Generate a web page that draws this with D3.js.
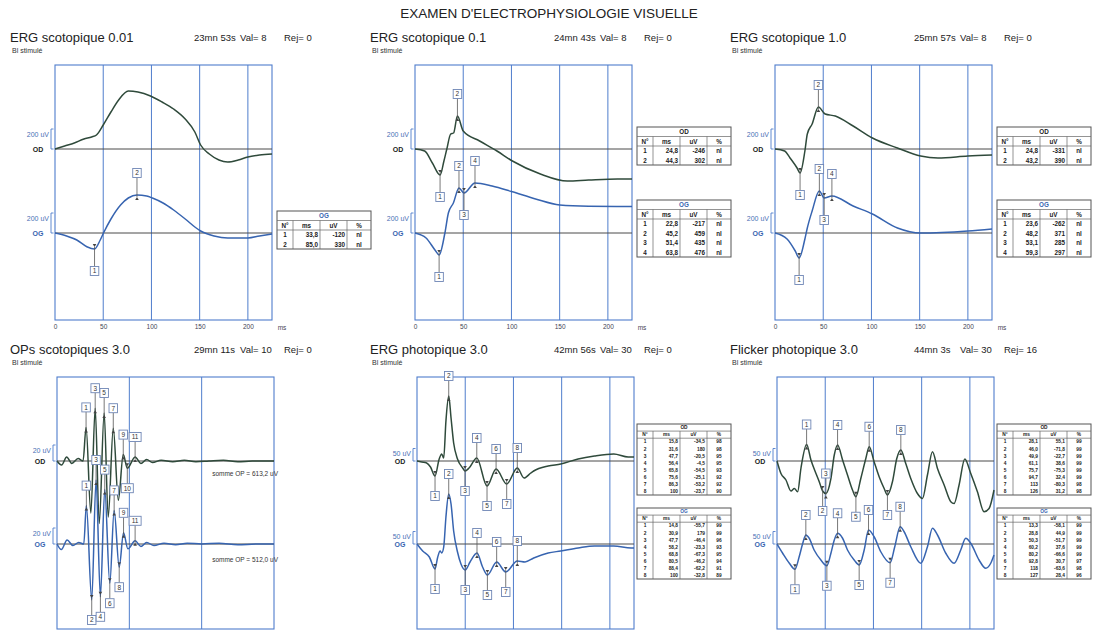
<!DOCTYPE html>
<html>
<head>
<meta charset="utf-8">
<script src="https://cdn.jsdelivr.net/npm/d3@7"></script>
<style>
  body { margin: 0; background: #fff; }
  text { font-family: "Liberation Sans", Arial, sans-serif; }
</style>
</head>
<body>
<script>
// ---- waveforms : [ms, uV] ----
var scot001OD = [[0,0],[10,30],[20,60],[30,100],[38,120],[43,140],[50,240],[58,370],[66,490],[76,580],[86,570],[99,530],[111,470],[123,400],[135,300],[145,170],[151,40],[160,-50],[170,-110],[179,-130],[190,-110],[200,-80],[212,-60],[225,-50]];
var scot001OG = [[0,0],[12,-30],[22.6,-70],[33,-137],[41,-160],[46.9,-70],[50.3,0],[58,140],[68,280],[76,350],[85,380],[95,370],[101,350],[112,300],[123,230],[135,140],[145,60],[151,20],[165,-30],[179,-50],[200,-50],[212,-30],[225,-10]];

var scot01OD = [[0,0],[10,-20],[18,-140],[26,-260],[30,-120],[33,0],[37,150],[40,160],[44,330],[50,180],[67,80],[85,-20],[101,-120],[130,-250],[158,-320],[180,-310],[210,-300],[225,-300]];
var scot01OG = [[0,0],[11.5,-50],[20.7,-170],[25,-220],[31,0],[34.6,200],[39.8,300],[45.6,450],[50.8,400],[62.2,500],[80,470],[100,415],[125,340],[150,280],[180,268],[225,265]];

var scot1OD = [[0,0],[10,-20],[15.6,-90],[22.9,-190],[26,-240],[31,-20],[33.5,150],[38.5,250],[45,420],[52,350],[62.5,330],[81,230],[101,110],[127,10],[151,-70],[169,-90],[200,-70],[225,-60]];
var scot1OG = [[0,0],[12.5,-60],[21,-180],[25,-250],[31,-60],[33.5,50],[38.5,220],[46,420],[51,350],[59,370],[81,270],[101,190],[127,50],[151,0],[200,20],[225,40]];

var opsOD = [[0,0],[3.2,-5],[6.7,5],[10.2,-3],[14.6,3],[18,0],[20.1,42],[23.4,-65],[26.4,66],[29.2,-78],[32.6,60],[35.4,-70],[38.9,41],[42.4,-49],[45.8,8],[48.6,-9],[54,5],[58,-3],[62,2],[66,-2],[72,1],[80,-1],[88,1],[96,-1],[105,0],[115,1],[125,-1],[135,0],[150,0]];
var opsOG = [[0,0],[3,-7],[7,5],[11,-2],[15,2],[18.5,0],[20.3,48],[24,-70],[27,80],[30,-66],[33,68],[36.5,-49],[39.5,42],[43,-29],[46,14],[49,-6],[54,4],[58,-3],[62,2],[67,-2],[74,1],[82,-1],[90,1],[100,0],[112,1],[125,-1],[138,0],[150,0]];

var photOD = [[0,0],[5,-4],[10,-8],[14,-24],[18.7,-60],[23,8],[25.6,28],[27.7,12],[30,160],[32.9,260],[35.3,172],[38,72],[42,8],[47.4,-28],[49.8,-40],[54,-28],[62,12],[72.6,-100],[82,-32],[93,-92],[104,-28],[111,-68],[118,-48],[121,-40],[136,-20],[149,-12],[167,8],[184,20],[204,28],[219,16],[225,16]];
var photOG = [[0,0],[5.9,-28],[12.8,-52],[18.7,-100],[21.5,-52],[24,-28],[25.6,-36],[27.7,-12],[30,108],[32.9,200],[35.3,160],[38,52],[42,-32],[45.6,-80],[50,-104],[55,-72],[62.2,-36],[68,-92],[73,-124],[82.6,-72],[92,-112],[104,-68],[112,-72],[121,-56],[136,-36],[149,-28],[167,-16],[184,-8],[204,-8],[222,-16],[225,-16]];

var flickOD = [[0,0],[4.1,-50],[9.3,-76],[14.5,-120],[18,-110],[21.4,-123],[24.8,-30],[30.7,66],[35.2,4],[40.4,-50],[43.8,-83],[47.3,-120],[50.7,-130],[55.9,-70],[59.4,24],[62.8,64],[68,4],[73.1,-56],[78.3,-116],[81.8,-143],[86.9,-70],[92.1,10],[95.6,57],[100.7,-3],[105.9,-63],[111.1,-110],[114.5,-136],[119.7,-83],[124.2,10],[128.4,44],[133.5,-10],[138.7,-70],[145.6,-130],[150.8,-150],[156,-56],[161.2,37],[166.4,-30],[173.3,-96],[180.2,-163],[183.6,-170],[188.8,-96],[194.7,8],[200.9,-50],[207.8,-123],[214.7,-203],[219.9,-190],[225,-116]];
var flickOG = [[0,0],[5.9,-37],[12.8,-77],[18.6,-101],[23,-51],[26.5,0],[29.9,36],[33.4,23],[38.5,-24],[45.5,-64],[51.7,-87],[55.9,-37],[59.4,16],[62.8,43],[68,23],[73.1,-24],[80,-64],[85.2,-84],[90.4,-24],[94.9,56],[100.7,29],[107.6,-31],[117.3,-75],[122.1,-11],[127.7,69],[131.8,49],[138.7,-11],[149.1,-77],[156,-11],[161.2,63],[166.4,36],[175,-37],[183.6,-77],[190.5,-24],[195.7,23],[200.9,3],[209.5,-64],[216.4,-97],[221.6,-77],[225,-44]];

// ---- markers : [label, ms, side] ----
var scot001OGMarks = [["1",41,"down"],["2",85,"up"]];
var scot01ODMarks = [["1",26,"down"],["2",44,"up"]];
var scot01OGMarks = [["1",25,"down"],["2",45.6,"up"],["3",50.8,"down"],["4",62.2,"up"]];
var scot1ODMarks = [["1",26,"down"],["2",45,"up"]];
var scot1OGMarks = [["1",25,"down"],["2",46,"up"],["3",51,"down"],["4",59,"up"]];
var opsODMarks = [["1",20.1,"up"],["3",26.4,"up"],["5",32.6,"up"],["7",38.9,"up"],["9",45.8,"up"],["11",54,"up"],["10",48.6,"down"]];
var opsOGMarks = [["1",20.3,"up"],["3",27,"up"],["5",33,"up"],["7",39.5,"up"],["9",46,"up"],["11",54,"up"],["2",24,"down"],["4",30,"down"],["6",36.5,"down"],["8",43,"down"]];
var photODMarks = [["1",18.7,"down"],["2",32.9,"up"],["3",49.8,"down"],["4",62,"up"],["5",72.6,"down"],["6",82,"up"],["7",93,"down"],["8",104,"up"]];
var photOGMarks = [["1",18.7,"down"],["2",32.9,"up"],["3",50,"down"],["4",62.2,"up"],["5",73,"down"],["6",82.6,"up"],["7",92,"down"],["8",104,"up"]];
var flickODMarks = [["1",30.7,"up"],["2",47.3,"down"],["3",50.7,"up"],["4",62.8,"up"],["5",81.8,"down"],["6",95.6,"up"],["7",114.5,"down"],["8",128.4,"up"]];
var flickOGMarks = [["1",18.6,"down"],["2",29.9,"up"],["3",51.7,"down"],["4",62.8,"up"],["5",85.2,"down"],["6",94.9,"up"],["7",117.3,"down"],["8",127.7,"up"]];

// ---- result tables ----
var tableHeader = ["N°","ms","uV","%"];
var scot001OGTable = [["1","33,8","-120","nl"],["2","85,0","330","nl"]];
var scot01ODTable = [["1","24,8","-246","nl"],["2","44,3","302","nl"]];
var scot01OGTable = [["1","22,8","-217","nl"],["2","45,2","459","nl"],["3","51,4","435","nl"],["4","63,8","476","nl"]];
var scot1ODTable = [["1","24,8","-331","nl"],["2","43,2","390","nl"]];
var scot1OGTable = [["1","23,6","-262","nl"],["2","48,2","371","nl"],["3","53,1","285","nl"],["4","59,3","297","nl"]];
var photODTable = [["1","15,8","-34,5","98"],["2","31,6","180","98"],["3","47,7","-20,5","95"],["4","56,4","-4,5","95"],["5","65,8","-54,5","93"],["6","75,6","-25,1","92"],["7","86,3","-53,2","92"],["8","100","-23,7","90"]];
var photOGTable = [["1","14,8","-55,7","99"],["2","30,9","179","99"],["3","47,7","-46,4","96"],["4","58,2","-23,3","93"],["5","68,8","-67,3","95"],["6","80,5","-46,2","94"],["7","88,4","-62,2","91"],["8","100","-32,8","89"]];
var flickODTable = [["1","28,1","55,1","99"],["2","46,0","-71,8","99"],["3","49,9","-22,7","99"],["4","61,1","38,6","99"],["5","75,7","-75,3","99"],["6","94,7","32,4","99"],["7","113","-80,3","98"],["8","126","31,2","98"]];
var flickOGTable = [["1","13,3","-58,1","99"],["2","28,8","44,9","99"],["3","50,3","-51,7","99"],["4","60,2","37,6","99"],["5","80,2","-66,6","99"],["6","92,8","30,7","97"],["7","118","-63,6","98"],["8","127","28,4","96"]];

var msTicks = [0, 50, 100, 150, 200];
var opTicks = [0, 50, 100, 150];

var panels = [
  {col:0, row:0, title:"ERG scotopique 0.01", time:"23mn 53s", val:8, rej:0, xMax:225, ticks:msTicks, k:0.1, scale:200,
   od:scot001OD, og:scot001OG, odMarks:[], ogMarks:scot001OGMarks, odTable:null, ogTable:scot001OGTable},
  {col:1, row:0, title:"ERG scotopique 0.1", time:"24mn 43s", val:8, rej:0, xMax:225, ticks:msTicks, k:0.1, scale:200,
   od:scot01OD, og:scot01OG, odMarks:scot01ODMarks, ogMarks:scot01OGMarks, odTable:scot01ODTable, ogTable:scot01OGTable},
  {col:2, row:0, title:"ERG scotopique 1.0", time:"25mn 57s", val:8, rej:0, xMax:225, ticks:msTicks, k:0.1, scale:200,
   od:scot1OD, og:scot1OG, odMarks:scot1ODMarks, ogMarks:scot1OGMarks, odTable:scot1ODTable, ogTable:scot1OGTable},
  {col:0, row:1, title:"OPs scotopiques 3.0", time:"29mn 11s", val:10, rej:0, xMax:150, ticks:opTicks, k:0.8, scale:20,
   od:opsOD, og:opsOG, odMarks:opsODMarks, ogMarks:opsOGMarks, odTable:null, ogTable:null,
   sums:["somme OP = 613,2 uV", "somme OP = 512,0 uV"]},
  {col:1, row:1, title:"ERG photopique 3.0", time:"42mn 56s", val:30, rej:0, xMax:225, ticks:msTicks, k:0.25, scale:50,
   od:photOD, og:photOG, odMarks:photODMarks, ogMarks:photOGMarks, odTable:photODTable, ogTable:photOGTable},
  {col:2, row:1, title:"Flicker photopique 3.0", time:"44mn 3s", val:30, rej:16, xMax:225, ticks:msTicks, k:0.25, scale:50,
   od:flickOD, og:flickOG, odMarks:flickODMarks, ogMarks:flickOGMarks, odTable:flickODTable, ogTable:flickOGTable}
];

// row 2 frames run off the bottom of the page, so their ms labels are not shown
var rows = [
  {title:42, sub:53, top:65, bottom:320, od:149, og:233, tblOD:127, tblOG:200, rowH:9.5, tblFont:6.3, left:55, off:22, tickLabels:true},
  {title:354, sub:365, top:377, bottom:629, od:461, og:544, tblOD:424, tblOG:508, rowH:7.1, tblFont:4.8, left:57, off:20, tickLabels:false}
];

var GRID = "#4f7dcc", OD_COL = "#2f4a3b", OG_COL = "#3764b0", BASE_COL = "#4a4a4a", TXT = "#222";

var svg = d3.select("body").append("svg")
  .attr("width", 1094)
  .attr("height", 632);

svg.append("text")
  .attr("x", 549).attr("y", 18)
  .attr("text-anchor", "middle")
  .style("font-size", "13.5px")
  .attr("fill", TXT)
  .text("EXAMEN D'ELECTROPHYSIOLOGIE VISUELLE");

function drawTable(g, tx, ty, name, color, data, rh, fs) {
  var cw = [16, 27, 27, 24];
  var w = d3.sum(cw);
  var n = data.length + 2;
  var xs = [tx];
  cw.forEach(function(c) { xs.push(xs[xs.length - 1] + c); });

  g.append("rect")
    .attr("x", tx).attr("y", ty)
    .attr("width", w).attr("height", n * rh)
    .attr("fill", "#fff").attr("stroke", "#555").attr("stroke-width", 1);

  g.append("text")
    .attr("x", tx + w / 2).attr("y", ty + rh / 2 + fs * 0.36)
    .attr("text-anchor", "middle")
    .attr("fill", color)
    .style("font-size", fs + "px").style("font-weight", "bold")
    .text(name);

  [1, 2].forEach(function(i) {
    g.append("line")
      .attr("x1", tx).attr("x2", tx + w)
      .attr("y1", ty + i * rh).attr("y2", ty + i * rh)
      .attr("stroke", "#666").attr("stroke-width", 0.7);
  });
  xs.slice(1, -1).forEach(function(xv) {
    g.append("line")
      .attr("x1", xv).attr("x2", xv)
      .attr("y1", ty + rh).attr("y2", ty + n * rh)
      .attr("stroke", "#666").attr("stroke-width", 0.7);
  });

  [tableHeader].concat(data).forEach(function(row, ri) {
    row.forEach(function(cell, ci) {
      var right = (ci === 1 || ci === 2) && ri > 0;
      g.append("text")
        .attr("x", right ? xs[ci + 1] - 2 : (xs[ci] + xs[ci + 1]) / 2)
        .attr("y", ty + (ri + 1) * rh + rh / 2 + fs * 0.36)
        .attr("text-anchor", right ? "end" : "middle")
        .attr("fill", "#222")
        .style("font-size", fs + "px").style("font-weight", "bold")
        .text(cell);
    });
  });
}

function drawMarks(g, trace, marks, x, y, off) {
  marks.forEach(function(m) {
    var p = trace.find(function(d) { return d[0] === m[1]; });
    if (!p) return;
    var px = x(p[0]), py = y(p[1]);
    var dir = m[2] === "up" ? -1 : 1;
    var by = py + dir * off;
    var bw = m[0].length > 1 ? 12 : 8.5, bh = 9;
    g.append("line")
      .attr("x1", px).attr("x2", px)
      .attr("y1", by - dir * bh / 2).attr("y2", py - dir * 2)
      .attr("stroke", "#555").attr("stroke-width", 0.8);
    g.append("path")
      .attr("d", "M" + (px - 1.8) + "," + (py - dir * 5) + "L" + (px + 1.8) + "," + (py - dir * 5) + "L" + px + "," + (py - dir * 2) + "Z")
      .attr("fill", "#444");
    g.append("rect")
      .attr("x", px - bw / 2).attr("y", by - bh / 2)
      .attr("width", bw).attr("height", bh)
      .attr("fill", "#fff").attr("stroke", "#6f86b5").attr("stroke-width", 0.9);
    g.append("text")
      .attr("x", px).attr("y", by + 2.4)
      .attr("text-anchor", "middle")
      .attr("fill", "#333")
      .style("font-size", "6.5px")
      .text(m[0]);
  });
}

panels.forEach(function(p) {
  var r = rows[p.row];
  var x0 = p.col * 360;
  var left = x0 + r.left, right = left + 217;
  var g = svg.append("g");

  var x = d3.scaleLinear().domain([0, p.xMax]).range([left, right]);

  // headings
  g.append("text").attr("x", x0 + 10).attr("y", r.title)
    .style("font-size", "13px").attr("fill", TXT).text(p.title);
  g.append("text").attr("x", x0 + 12).attr("y", r.sub)
    .style("font-size", "7px").attr("fill", "#333").text("Bl stimulé");
  [p.time, "Val= " + p.val, "Rej= " + p.rej].forEach(function(t, i) {
    g.append("text").attr("x", x0 + [194, 240, 284][i]).attr("y", r.title - 1)
      .style("font-size", "9.5px").attr("fill", TXT).text(t);
  });

  // frame and grid
  g.append("rect")
    .attr("x", left).attr("y", r.top)
    .attr("width", right - left).attr("height", r.bottom - r.top)
    .attr("fill", "none").attr("stroke", GRID).attr("stroke-width", 1.1);
  g.selectAll(".grid")
    .data(p.ticks.filter(function(t) { return t > 0 && t < p.xMax; }))
    .enter().append("line")
    .attr("x1", function(d) { return x(d); }).attr("x2", function(d) { return x(d); })
    .attr("y1", r.top).attr("y2", r.bottom)
    .attr("stroke", GRID).attr("stroke-width", 1);

  if (r.tickLabels) {
    var axis = g.append("g")
      .attr("transform", "translate(0," + (r.bottom + 1) + ")")
      .call(d3.axisBottom(x).tickValues(p.ticks).tickSize(0).tickPadding(3));
    axis.select(".domain").remove();
    axis.selectAll("text").style("font-size", "6.5px").attr("fill", "#445");
    g.append("text").attr("x", right + 10).attr("y", r.bottom + 10)
      .attr("text-anchor", "middle").style("font-size", "6.5px").attr("fill", "#445").text("ms");
  }

  // the two eyes
  [["OD", p.od, p.odMarks, r.od, OD_COL, "#222"], ["OG", p.og, p.ogMarks, r.og, OG_COL, OG_COL]].forEach(function(e, ei) {
    var base = e[3];
    var y = d3.scaleLinear().domain([0, 1]).range([base, base - p.k]);
    var h = base - y(p.scale);

    g.append("line")
      .attr("x1", left).attr("x2", right)
      .attr("y1", base).attr("y2", base)
      .attr("stroke", BASE_COL).attr("stroke-width", 1);

    g.append("path")
      .attr("d", "M" + (left - 1.5) + "," + (base - h) + "H" + (left - 4) + "V" + base + "H" + (left - 1.5))
      .attr("fill", "none").attr("stroke", GRID).attr("stroke-width", 0.9);
    g.append("text")
      .attr("x", left - 6).attr("y", base - h + 7.5)
      .attr("text-anchor", "end").style("font-size", "7px").attr("fill", "#4a6fb5")
      .text(p.scale + " uV");
    g.append("text")
      .attr("x", left - 17).attr("y", base + 2.5)
      .attr("text-anchor", "middle").style("font-size", "7px").style("font-weight", "bold")
      .attr("fill", e[5]).text(e[0]);

    var line = d3.line()
      .x(function(d) { return x(d[0]); })
      .y(function(d) { return y(d[1]); })
      .curve(d3.curveMonotoneX);
    g.append("path")
      .datum(e[1])
      .attr("d", line)
      .attr("fill", "none").attr("stroke", e[4]).attr("stroke-width", 1.5)
      .attr("stroke-linejoin", "round");

    drawMarks(g, e[1], e[2], x, y, r.off);

    if (p.sums) {
      g.append("text")
        .attr("x", right + 4).attr("y", base + (ei ? 18 : 15))
        .attr("text-anchor", "end").style("font-size", "6.5px").attr("fill", "#333")
        .text(p.sums[ei]);
    }
  });

  // tables
  var tx = x0 + 277;
  if (p.odTable) drawTable(g, tx, r.tblOD, "OD", "#222", p.odTable, r.rowH, r.tblFont);
  if (p.ogTable) drawTable(g, tx, p.odTable ? r.tblOG : r.tblOG + 11, "OG", OG_COL, p.ogTable, r.rowH, r.tblFont);
});
</script>
</body>
</html>
